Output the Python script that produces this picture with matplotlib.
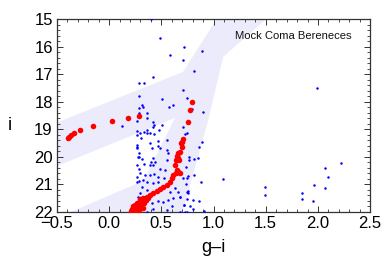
import matplotlib
matplotlib.use("Agg")
import matplotlib.pyplot as plt
from matplotlib.ticker import MultipleLocator
from matplotlib.patches import Polygon

# ---- data ----
# selection region (g-i, i) outline
band_gi = [-0.6, -0.6, 0.33, 0.631, -0.6, -0.6, 0.708, 1.06, 1.56, 1.092, 0.95, 0.66, -0.6]
band_i  = [22.6, 22.38, 20.86, 18.58, 20.49, 18.9, 16.91, 14.8, 14.8, 16.36, 18.65, 22.6, 22.6]

# horizontal branch members (red)
hb_gi = [-0.382, -0.390, -0.369, -0.334, -0.279, -0.152, 0.027, 0.181, 0.283]
hb_i  = [19.26, 19.30, 19.20, 19.14, 19.02, 18.86, 18.70, 18.58, 18.50]

# red giant branch / turn-off members (red)
rgb_gi = [0.797, 0.775, 0.753, 0.711, 0.701, 0.689, 0.696, 0.679, 0.663, 0.653, 0.663, 0.638,
          0.673, 0.631, 0.653, 0.663, 0.679, 0.641, 0.615, 0.600, 0.583, 0.552, 0.519, 0.488,
          0.456, 0.423, 0.392, 0.360, 0.327, 0.296, 0.264, 0.248, 0.232, 0.216,
          0.30, 0.28, 0.26, 0.24, 0.22, 0.31, 0.29, 0.27, 0.25, 0.23, 0.33, 0.31, 0.29,
          0.27, 0.25, 0.22, 0.34, 0.32, 0.28, 0.26, 0.24, 0.21, 0.30, 0.35, 0.37, 0.23]
rgb_i  = [18.01, 18.29, 18.72, 19.36, 19.44, 19.50, 19.63, 19.81, 19.87, 19.95, 20.05, 20.11,
          20.11, 20.29, 20.47, 20.53, 20.59, 20.59, 20.65, 20.77, 20.90, 21.02, 21.08, 21.16,
          21.24, 21.32, 21.38, 21.44, 21.50, 21.60, 21.68, 21.75, 21.84, 21.93,
          21.62, 21.70, 21.78, 21.86, 21.95, 21.72, 21.80, 21.88, 21.96, 21.99, 21.66, 21.78,
          21.92, 21.97, 21.90, 21.88, 21.58, 21.86, 21.97, 21.82, 21.93, 21.98, 21.52, 21.55, 21.48, 21.78]

# field stars (blue)
fld_gi = [0.398, 0.487, 0.583, 0.705, 0.718, 0.816, 0.423, 0.289, 0.334, 0.289, 0.504, 0.711,
          0.749, 0.577, 0.615, 0.322, 0.360, 0.289, 0.797, 0.120, 0.264, 0.360, 0.417, 0.270,
          0.296, 0.334, 0.366, 0.392, 0.430, 0.705, 0.727, 0.749, 0.887, 0.897, 1.99,
          0.887, 0.865, 0.769, 0.813, 0.769, 2.223, 2.07, 2.095, 1.958, 2.07, 1.089, 0.881,
          1.494, 1.494, 1.846, 1.846, 1.957, 0.721, 0.759, 0.743, 0.679, 0.749, 0.801, 0.861,
          0.721, 0.912, 0.727, 0.743, 0.813,
          0.478, 0.552, 0.471, 0.264, 0.270, 0.392, 0.408, 0.471, 0.488, 0.552, 0.567, 0.289,
          0.289, 0.312, 0.423, 0.440, 0.552, 0.264, 0.334, 0.392, 0.423, 0.488, 0.535, 0.264,
          0.296, 0.344, 0.392, 0.430, 0.471, 0.526, 0.264, 0.327, 0.360, 0.423, 0.471, 0.312,
          0.360, 0.296, 0.280, 0.327, 0.408, 0.471, 0.519, 0.567, 0.615, 0.679, 0.663, 0.583,
          0.631, 0.732, 0.759, 0.745, 0.703, 0.732, 0.759, 0.850, 0.433, 0.503, 0.423, 0.600,
          0.552, 0.423, 0.360, 0.679, 0.770, 0.801, 0.264, 0.268, 0.275, 0.283, 0.290,
          0.289, 0.316, 0.360, 0.304, 0.360, 0.402]
fld_i  = [14.98, 15.66, 16.29, 16.47, 15.99, 16.87, 17.08, 17.30, 17.30, 17.77, 17.89, 17.56,
          17.87, 18.17, 18.11, 18.17, 18.41, 18.41, 18.24, 18.87, 18.68, 18.59, 18.72, 19.05,
          19.14, 19.08, 19.02, 19.14, 19.16, 18.90, 19.16, 19.14, 16.13, 18.35, 17.48,
          19.44, 19.65, 20.01, 20.07, 20.11, 20.21, 20.41, 20.72, 21.02, 21.14, 20.80, 20.90,
          21.08, 21.38, 21.32, 21.54, 21.60, 21.75, 21.24, 21.26, 21.44, 21.54, 21.56, 21.62,
          21.75, 21.96, 21.99, 21.99, 20.65,
          19.02, 19.38, 19.42, 19.63, 19.69, 19.50, 19.68, 19.59, 19.68, 19.75, 19.87, 19.85,
          19.99, 20.07, 20.05, 20.17, 20.11, 20.29, 20.27, 20.29, 20.31, 20.44, 20.47, 20.72,
          20.59, 20.65, 20.65, 20.63, 20.72, 20.77, 20.90, 20.84, 20.90, 20.96, 20.90, 21.08,
          21.20, 21.32, 21.44, 21.60, 21.68, 21.62, 21.65, 21.56, 21.50, 21.44, 21.28, 21.28,
          21.14, 20.36, 20.71, 20.76, 20.75, 20.98, 21.30, 20.05, 18.85, 18.83, 18.91, 21.80,
          21.93, 21.89, 21.99, 21.99, 21.78, 21.89, 19.20, 19.57, 20.00, 20.45, 20.88,
          18.22, 18.11, 19.14, 19.30, 21.60, 20.20]

label_text = "Mock Coma Bereneces"
xlabel = "g\u2013i"
ylabel = "i"

# ---- figure ----
plt.rcParams['font.family'] = ['Liberation Sans', 'DejaVu Sans']
fig = plt.figure(figsize=(3.82, 2.70), dpi=100)
ax = fig.add_axes([0.149, 0.215, 0.820, 0.713])

poly = Polygon(list(zip(band_gi, band_i)), closed=True, facecolor='#ebebfc',
               edgecolor='none', zorder=1)
ax.add_patch(poly)

ax.scatter(fld_gi, fld_i, s=3.2, color='#0000ff', linewidths=0, zorder=3)
ax.scatter(hb_gi + rgb_gi, hb_i + rgb_i, s=16, color='#ff0000', linewidths=0, zorder=4)

ax.set_xlim(-0.5, 2.5)
ax.set_ylim(22, 15)

ax.xaxis.set_major_locator(MultipleLocator(0.5))
ax.xaxis.set_minor_locator(MultipleLocator(0.1))
ax.yaxis.set_major_locator(MultipleLocator(1))
ax.yaxis.set_minor_locator(MultipleLocator(0.2))
ax.xaxis.set_major_formatter(matplotlib.ticker.FuncFormatter(
    lambda v, p: ("\u2212" if v < -1e-9 else "") + f"{abs(v):.1f}"))
ax.tick_params(which='both', direction='in', top=True, right=True,
               colors='#333333', labelcolor='black', labelsize=12, pad=3)
ax.tick_params(which='major', length=4, width=0.7)
ax.tick_params(which='minor', length=2, width=0.6)
for sp in ax.spines.values():
    sp.set_color('#333333')
    sp.set_linewidth(0.9)

ax.text(0.942, 0.915, label_text, transform=ax.transAxes, ha='right', va='center',
        fontsize=8.1, color='#111111', zorder=5)

fig.text(213.5 / 382, 1 - 247 / 270, xlabel, ha='center', va='center', fontsize=13)
fig.text(10 / 382, 1 - 126 / 270, ylabel, ha='center', va='center', fontsize=13)

fig.savefig("out.png", dpi=100)
